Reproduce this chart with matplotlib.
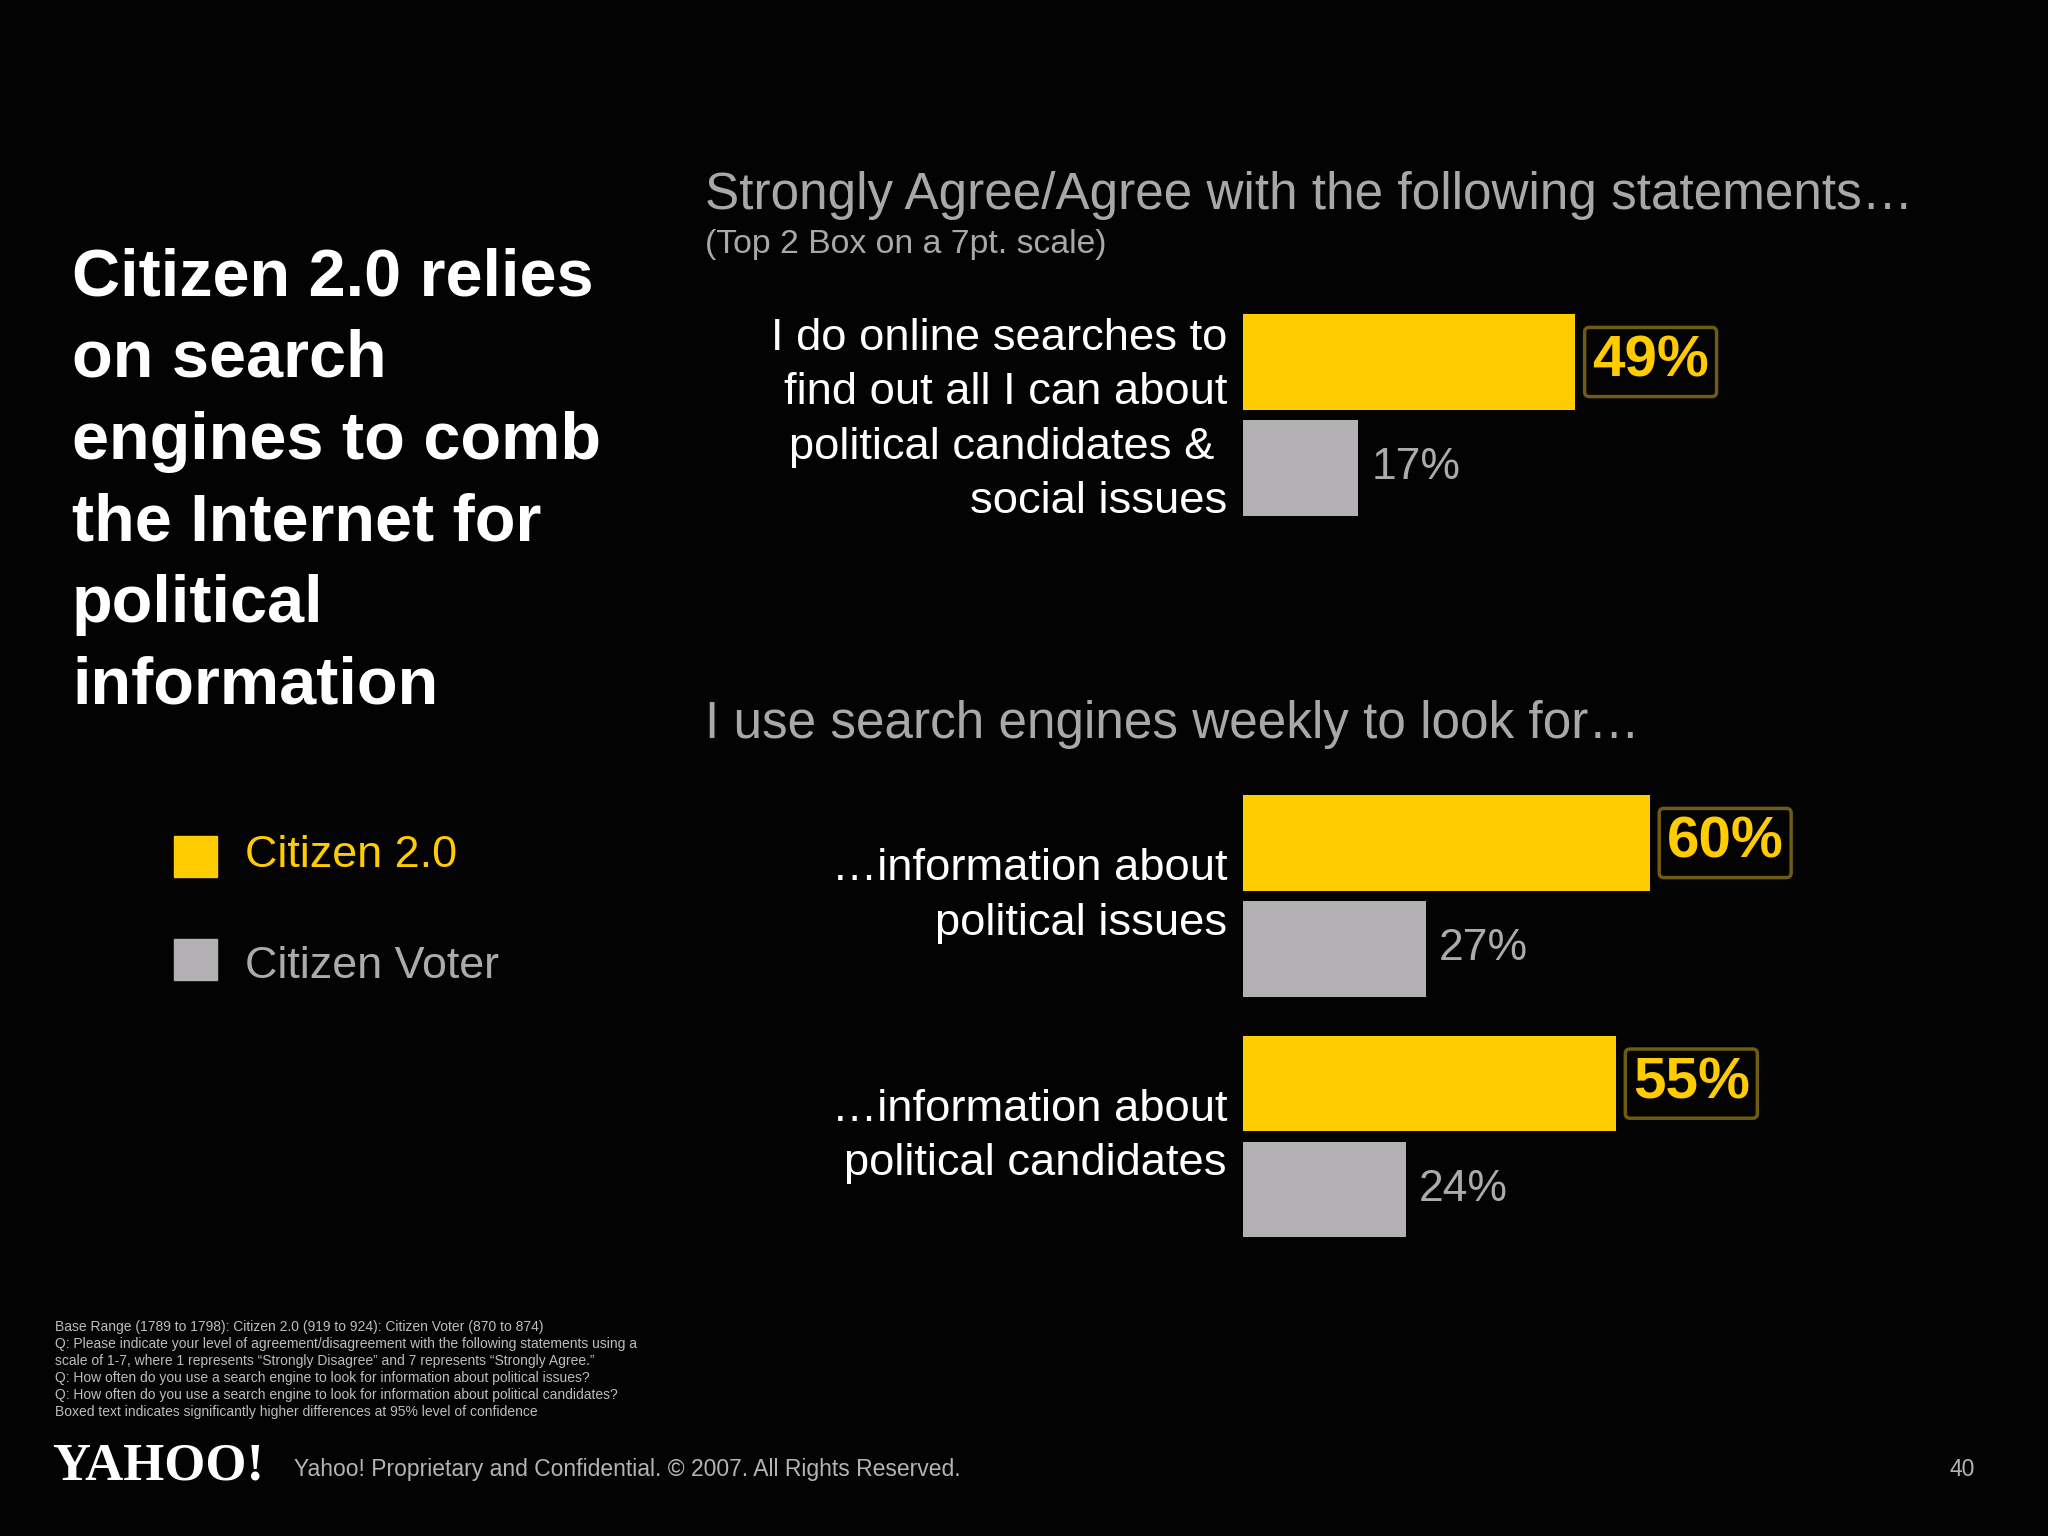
import matplotlib
matplotlib.use("Agg")
import matplotlib.pyplot as plt
from matplotlib import font_manager
from matplotlib.patches import Rectangle

# ---- data ----
series_names = ["Citizen 2.0", "Citizen Voter"]

agree_labels = ["I do online searches to\nfind out all I can about\npolitical candidates & \nsocial issues"]
agree_citizen20 = [49]
agree_voter = [17]

weekly_labels = ["\u2026information about\npolitical issues",
                 "\u2026information about\npolitical candidates"]
weekly_citizen20 = [60, 55]
weekly_voter = [27, 24]

title_lines = ["Citizen 2.0 relies", "on search", "engines to comb",
               "the Internet for", "political", "information"]

footnotes = [
    "Base Range (1789 to 1798): Citizen 2.0 (919 to 924): Citizen Voter (870 to 874)",
    "Q: Please indicate your level of agreement/disagreement with the following statements using a",
    "scale of 1-7, where 1 represents \u201cStrongly Disagree\u201d and 7 represents \u201cStrongly Agree.\u201d",
    "Q: How often do you use a search engine to look for information about political issues?",
    "Q: How often do you use a search engine to look for information about political candidates?",
    "Boxed text indicates significantly higher differences at 95% level of confidence",
]

# ---- style ----
BG = "#030303"
YELLOW = "#FFCC00"
BAR_GRAY = "#B2B0B3"
TXT_GRAY = "#ABABAB"
HEAD_GRAY = "#A8A8A8"
BOX_EDGE = "#6E5C14"
SANS = ["Liberation Sans", "DejaVu Sans"]

# narrow face for the boxed numbers if one is installed
installed = {f.name for f in font_manager.fontManager.ttflist}
if "Liberation Sans Narrow" in installed:
    BOX_FONT, BOX_SIZE = ["Liberation Sans Narrow"], 48
else:
    BOX_FONT, BOX_SIZE = SANS, 42

W, H = 2048, 1536
fig = plt.figure(figsize=(W / 100, H / 100), dpi=100, facecolor=BG)


def fx(px):
    return px / W


def fy(py):
    return 1 - py / H


def add_axes_px(left, top, width, height):
    ax = fig.add_axes([fx(left), fy(top + height), width / W, height / H])
    ax.set_facecolor("none")
    ax.axis("off")
    return ax


SLOT = 106  # px per bar slot
X_LEFT = 1243
X_WIDTH = 678  # 0..100 %
GAP = 2.27     # slot distance between groups


def draw_groups(ax, labels, c20, voter):
    for i, (lab, a, b) in enumerate(zip(labels, c20, voter)):
        y0 = i * GAP
        ax.barh(y0, a, height=0.9, color=YELLOW, edgecolor="none")
        ax.barh(y0 + 1, b, height=0.9, color=BAR_GRAY, edgecolor="none")
        # long labels sit a touch lower in the original
        dy = -2.5 * (lab.count("\n") - 1)
        ax.annotate(lab, xy=(0, y0 + 0.5), xytext=(-16, dy), textcoords="offset pixels",
                    ha="right", va="center", ma="right", color="white",
                    fontsize=32.7, family=SANS, linespacing=1.42)
        ax.annotate(f"{a}%", xy=(a, y0), xytext=(17, 0), textcoords="offset pixels",
                    ha="left", va="center", color=YELLOW, fontsize=BOX_SIZE,
                    fontweight="bold", family=BOX_FONT,
                    bbox=dict(boxstyle="round,pad=0.13,rounding_size=0.08",
                              fc="none", ec=BOX_EDGE, lw=2.5))
        ax.annotate(f"{b}%", xy=(b, y0 + 1), xytext=(13, 0), textcoords="offset pixels",
                    ha="left", va="center", color=TXT_GRAY, fontsize=32, family=SANS)
    n = len(labels)
    ax.set_xlim(0, 100)
    ax.set_ylim((n - 1) * GAP + 1.5, -0.5)


# top chart
ax1 = add_axes_px(X_LEFT, 362 - SLOT / 2, X_WIDTH, 2 * SLOT)
draw_groups(ax1, agree_labels, agree_citizen20, agree_voter)

# bottom chart
ax2 = add_axes_px(X_LEFT, 843 - SLOT / 2, X_WIDTH, (GAP + 2) * SLOT)
draw_groups(ax2, weekly_labels, weekly_citizen20, weekly_voter)

# ---- texts ----
for i, line in enumerate(title_lines):
    fig.text(fx(72), fy(295 + i * 81.8), line, color="white", fontsize=48,
             fontweight="bold", family=SANS, va="baseline", ha="left")

fig.text(fx(705), fy(209), "Strongly Agree/Agree with the following statements\u2026",
         color=HEAD_GRAY, fontsize=36.9, family=SANS, va="baseline")
fig.text(fx(705), fy(253), "(Top 2 Box on a 7pt. scale)",
         color=HEAD_GRAY, fontsize=24.3, family=SANS, va="baseline")
fig.text(fx(705), fy(738), "I use search engines weekly to look for\u2026",
         color=HEAD_GRAY, fontsize=36.9, family=SANS, va="baseline")

# legend
for name, col, txtcol, top, base in [(series_names[0], YELLOW, YELLOW, 836, 867),
                                     (series_names[1], BAR_GRAY, TXT_GRAY, 939, 978)]:
    fig.patches.append(Rectangle((fx(174), fy(top + 41)), 43 / W, 41 / H,
                                 transform=fig.transFigure, color=col))
    fig.text(fx(245), fy(base), name, color=txtcol, fontsize=32.3, family=SANS,
             va="baseline")

# footnote
for i, line in enumerate(footnotes):
    fig.text(fx(55), fy(1331 + i * 17), line, color="#BDBDBD", fontsize=10,
             family=SANS, va="baseline")

# footer
fig.text(fx(52), fy(1480), "YAHOO!", color="white", fontsize=38, fontweight="bold",
         family=["Liberation Serif", "DejaVu Serif"], va="baseline")
fig.text(fx(294), fy(1476), "Yahoo! Proprietary and Confidential. \u00a9 2007. All Rights Reserved.",
         color="#B4B4B4", fontsize=16.5, family=SANS, va="baseline")
fig.text(fx(1975), fy(1476), "40", color="#B4B4B4", fontsize=16.5, family=SANS,
         va="baseline", ha="right")

fig.savefig("out.png", dpi=100, facecolor=BG)
